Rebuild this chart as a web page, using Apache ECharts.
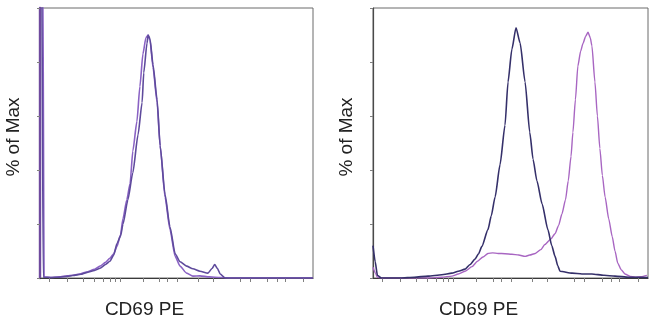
<!DOCTYPE html>
<html><head><meta charset="utf-8">
<script src="https://cdn.jsdelivr.net/npm/echarts@6/dist/echarts.min.js"></script>
<style>html,body{margin:0;padding:0;background:#fff}#c{width:650px;height:324px}</style>
</head><body><div id="c"></div><script>
// x axis: channel position (0-100, biexponential display units); y: % of Max
const xTickValues = [3.3, 9.9, 15.8, 19.8, 23.1, 25.6, 27.5, 29.3, 37.7, 43.6, 46.5, 50.2, 57.9, 63.4, 73.3, 76.9, 83.2, 86.8, 89.7, 96.3];
const yTickValues = [0, 20, 40, 60, 80, 100];
const xAxisTitle = 'CD69 PE';
const yAxisTitle = '% of Max';

// Left panel – violet histogram
const leftVioletX = [0, 1.0, 1.5, 4, 7, 10, 12, 15, 17, 20, 22, 24, 25.6, 27, 28.2, 29.5, 30.4, 31.8, 33, 34, 35.5, 36.6, 37.7, 38.8, 39.6, 40.3, 41.4, 42.9, 44, 45.8, 47.6, 49.5, 51.3, 53.7, 56, 58.6, 62, 66, 70, 80, 90, 100];
const leftVioletY = [120, 120, 0.3, 0.2, 0.4, 0.8, 1, 1.6, 2.2, 3.2, 4.4, 5.8, 7.3, 9, 11.7, 16, 22, 29, 35, 47, 58, 71, 83, 89, 90, 88, 78, 65, 49, 30, 18, 8, 4.4, 1.8, 0.7, 0.8, 0.4, 0.2, 0, 0, 0, 0];
// Left panel – dark violet histogram
const leftDarkX = [0.3, 0.6, 1.2, 4, 7, 10, 12, 15, 17, 20, 22, 24, 25.6, 27, 28.2, 29.5, 30.4, 32.2, 34, 35.9, 37.4, 38, 39.2, 39.6, 40.3, 41.4, 42.9, 44, 45.8, 47.6, 49.5, 51.3, 53.7, 56, 58.6, 61.5, 63, 64, 65, 66, 67.8, 75, 100];
const leftDarkY = [120, 120, 0.3, 0.2, 0.3, 0.6, 0.9, 1.4, 2.0, 2.8, 3.6, 5.0, 6.2, 8.5, 12.8, 15.5, 20, 29, 39, 53, 65, 76, 87, 90, 88.5, 79, 66, 49, 31, 19, 9, 6, 4.4, 3.4, 2.5, 1.8, 3.5, 5, 3.5, 1.5, 0, 0, 0];

// Right panel – navy histogram
const rightNavyX = [0, 0.8, 1.6, 3, 10, 15, 20, 25, 28.7, 31, 33.5, 35.3, 37, 38.4, 39.6, 41.8, 43, 44.4, 46.2, 48, 49.1, 50.5, 52, 53.5, 55.3, 57, 58.2, 59.6, 61.5, 63.6, 65, 66.2, 67.2, 68, 72.4, 76, 79.6, 84, 88, 93, 100];
const rightNavyY = [12, 6, 1, 0, 0, 0.3, 0.7, 1.2, 1.8, 2.5, 3.3, 5, 6.9, 9, 11.7, 17.9, 23, 30, 42, 56.6, 72.6, 84.7, 92.7, 87, 72.6, 54, 44, 36, 27.4, 17.9, 12, 8, 4.5, 2.5, 1.8, 1.5, 1.5, 1.0, 0.7, 0.3, 0.2];
// Right panel – magenta histogram
const rightMagentaX = [0, 0.8, 1.6, 3, 20, 25, 28.7, 31, 33.5, 36, 38, 40, 41.8, 43.5, 45.5, 48, 50.5, 53, 55.3, 57, 59, 61, 62.5, 64.5, 66.2, 67.5, 68.7, 70, 71, 72, 72.7, 73.6, 74.5, 75.5, 76.4, 77.3, 78.2, 79, 79.6, 80.7, 81.6, 82.5, 83.4, 84.4, 85.7, 87, 88, 89, 90.3, 91.6, 93.5, 95.3, 97.5, 99.6];
const rightMagentaY = [4, 2, 0.3, 0, 0, 0.3, 0.7, 1.5, 2.5, 4.2, 6.2, 7.8, 9.1, 9.3, 9.1, 9.0, 8.8, 8.5, 8.0, 8.5, 9.1, 10.5, 12.4, 14.3, 16.4, 19.5, 23.7, 29, 36, 45, 54, 66, 78.5, 84, 87, 89.5, 91, 89, 86, 72.6, 60, 48, 38, 30, 22, 15.3, 10, 5.5, 3, 1.5, 0.6, 0.3, 0.5, 1];

const zip = (xs, ys) => xs.map((x, i) => [x, ys[i]]);

const font = "'Liberation Sans', Arial, sans-serif";
const grids = [
  { left: 40, top: 8, width: 273, height: 274 },
  { left: 373, top: 8, width: 275, height: 274 }
];
function mkX(i) {
  return {
    gridIndex: i, type: 'value', min: 0, max: 100,
    axisLine: { show: true, onZero: false, lineStyle: { color: '#3a3a3a', width: 1.2 } },
    axisTick: { show: true, customValues: xTickValues, length: 4, lineStyle: { color: '#808080' } },
    axisLabel: { show: false }, splitLine: { show: false },
    name: xAxisTitle, nameLocation: 'middle', nameGap: 22,
    nameTextStyle: { fontFamily: font, fontSize: 19, color: '#222', padding: [0, 64, 0, 0] }
  };
}
function mkY(i, lineColor, lineWidth) {
  return {
    gridIndex: i, type: 'value', min: 0, max: 100, interval: 20,
    axisLine: { show: true, onZero: false, lineStyle: { color: lineColor, width: lineWidth } },
    axisTick: { show: true, customValues: yTickValues, length: 3, lineStyle: { color: '#808080' } },
    axisLabel: { show: false }, splitLine: { show: false },
    name: yAxisTitle, nameLocation: 'middle', nameGap: 17,
    nameTextStyle: { fontFamily: font, fontSize: 19, color: '#222', padding: [0, 0, 0, 12] }
  };
}
function mkS(i, data, color, w) {
  return {
    type: 'line', xAxisIndex: i, yAxisIndex: i, data: data,
    showSymbol: false, symbol: 'none', smooth: 0.2, smoothMonotone: 'x',
    lineStyle: { color: color, width: w }, clip: true
  };
}
const chart = echarts.init(document.getElementById('c'), null, { renderer: 'canvas' });
chart.setOption({
  animation: false,
  backgroundColor: '#fff',
  grid: grids.map(g => Object.assign({ show: true, borderColor: '#6a6a6a', borderWidth: 1 }, g)),
  xAxis: [mkX(0), mkX(1)],
  yAxis: [mkY(0, '#6f4a9e', 2.4), mkY(1, '#4a4a4a', 1.2)],
  series: [
    mkS(0, zip(leftVioletX, leftVioletY), '#8a62c4', 1.6),
    mkS(0, zip(leftDarkX, leftDarkY), '#5e4a9c', 1.6),
    mkS(1, zip(rightMagentaX, rightMagentaY), '#a866c2', 1.4),
    mkS(1, zip(rightNavyX, rightNavyY), '#35306a', 1.6)
  ]
});
</script></body></html>
